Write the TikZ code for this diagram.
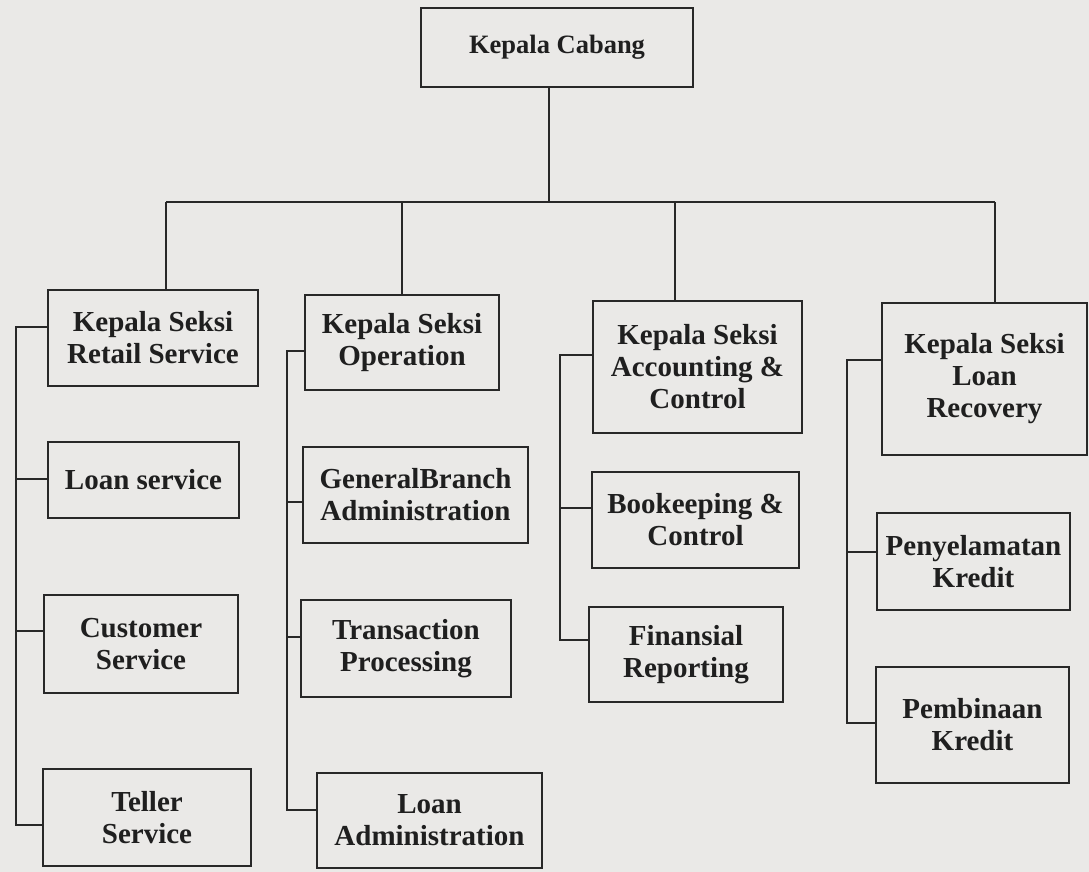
\documentclass[tikz,border=0pt]{standalone}
\usepackage{fontspec}
\setmainfont{Liberation Serif}
\definecolor{bg}{RGB}{234,233,231}
\definecolor{ink}{RGB}{40,40,40}
\begin{document}
\begin{tikzpicture}[x=1pt,y=-1pt,
  orgbox/.style={draw=ink, line width=2.4pt, inner sep=0pt, align=center,
    font=\fontsize{29}{32}\selectfont\bfseries, text=black!88},
  conn/.style={draw=ink, line width=1.9pt}]
\fill[bg] (0,0) rectangle (1089,872);
\useasboundingbox (0,0) rectangle (1089,872);
% top
\node[orgbox, minimum width=272pt, minimum height=79pt,
  font=\fontsize{26.5}{30}\selectfont\bfseries] (top) at (557,47.5) {Kepala Cabang};
% section heads
\node[orgbox, minimum width=210pt, minimum height=96pt] (b1) at (153,338) {Kepala Seksi\\Retail Service};
\node[orgbox, minimum width=194pt, minimum height=95pt] (b2) at (402,342.5) {Kepala Seksi\\Operation};
\node[orgbox, minimum width=209pt, minimum height=132pt] (b3) at (697.5,367) {Kepala Seksi\\Accounting \&\\Control};
\node[orgbox, minimum width=205pt, minimum height=152pt] (b4) at (984.5,379) {Kepala Seksi\\Loan\\Recovery};
% column 1
\node[orgbox, minimum width=191pt, minimum height=76pt] (c1a) at (143.5,480) {Loan service};
\node[orgbox, minimum width=194pt, minimum height=98pt] (c1b) at (141,644) {Customer\\Service};
\node[orgbox, minimum width=208pt, minimum height=97pt] (c1c) at (147,817.5) {Teller\\Service};
% column 2
\node[orgbox, minimum width=225pt, minimum height=96pt] (c2a) at (415.5,495) {GeneralBranch\\Administration};
\node[orgbox, minimum width=210pt, minimum height=97pt] (c2b) at (406,648.5) {Transaction\\Processing};
\node[orgbox, minimum width=225pt, minimum height=95pt] (c2c) at (429.5,820.5) {Loan\\Administration};
% column 3
\node[orgbox, minimum width=207pt, minimum height=96pt] (c3a) at (695.5,520) {Bookeeping \&\\Control};
\node[orgbox, minimum width=194pt, minimum height=95pt] (c3b) at (686,654.5) {Finansial\\Reporting};
% column 4
\node[orgbox, minimum width=193pt, minimum height=97pt] (c4a) at (973.5,561.5) {Penyelamatan\\Kredit};
\node[orgbox, minimum width=193pt, minimum height=116pt] (c4b) at (972.5,725) {Pembinaan\\Kredit};

% top connectors
\coordinate (cx) at (549,202);
\coordinate (d1) at (166,202);
\coordinate (d2) at (402,202);
\coordinate (d3) at (675,202);
\coordinate (d4) at (995,202);
\draw[conn] (top.south -| cx) -- (cx);
\draw[conn] (d1) -- (d4);
\draw[conn] (d1) -- (d1 |- b1.north);
\draw[conn] (d2) -- (d2 |- b2.north);
\draw[conn] (d3) -- (d3 |- b3.north);
\draw[conn] (d4) -- (d4 |- b4.north);

% column 1 connectors
\coordinate (v1a) at (16,327);
\coordinate (v1b) at (16,479);
\coordinate (v1c) at (16,631);
\coordinate (v1d) at (16,825);
\draw[conn] (b1.west |- v1a) -- (v1a) -- (v1d) -- (v1d -| c1c.west);
\draw[conn] (v1b) -- (v1b -| c1a.west);
\draw[conn] (v1c) -- (v1c -| c1b.west);

% column 2 connectors
\coordinate (v2a) at (287,351);
\coordinate (v2b) at (287,502);
\coordinate (v2c) at (287,637);
\coordinate (v2d) at (287,810);
\draw[conn] (b2.west |- v2a) -- (v2a) -- (v2d) -- (v2d -| c2c.west);
\draw[conn] (v2b) -- (v2b -| c2a.west);
\draw[conn] (v2c) -- (v2c -| c2b.west);

% column 3 connectors
\coordinate (v3a) at (560,355);
\coordinate (v3b) at (560,508);
\coordinate (v3c) at (560,640);
\draw[conn] (b3.west |- v3a) -- (v3a) -- (v3c) -- (v3c -| c3b.west);
\draw[conn] (v3b) -- (v3b -| c3a.west);

% column 4 connectors
\coordinate (v4a) at (847,360);
\coordinate (v4b) at (847,552);
\coordinate (v4c) at (847,723);
\draw[conn] (b4.west |- v4a) -- (v4a) -- (v4c) -- (v4c -| c4b.west);
\draw[conn] (v4b) -- (v4b -| c4a.west);
\end{tikzpicture}
\end{document}
